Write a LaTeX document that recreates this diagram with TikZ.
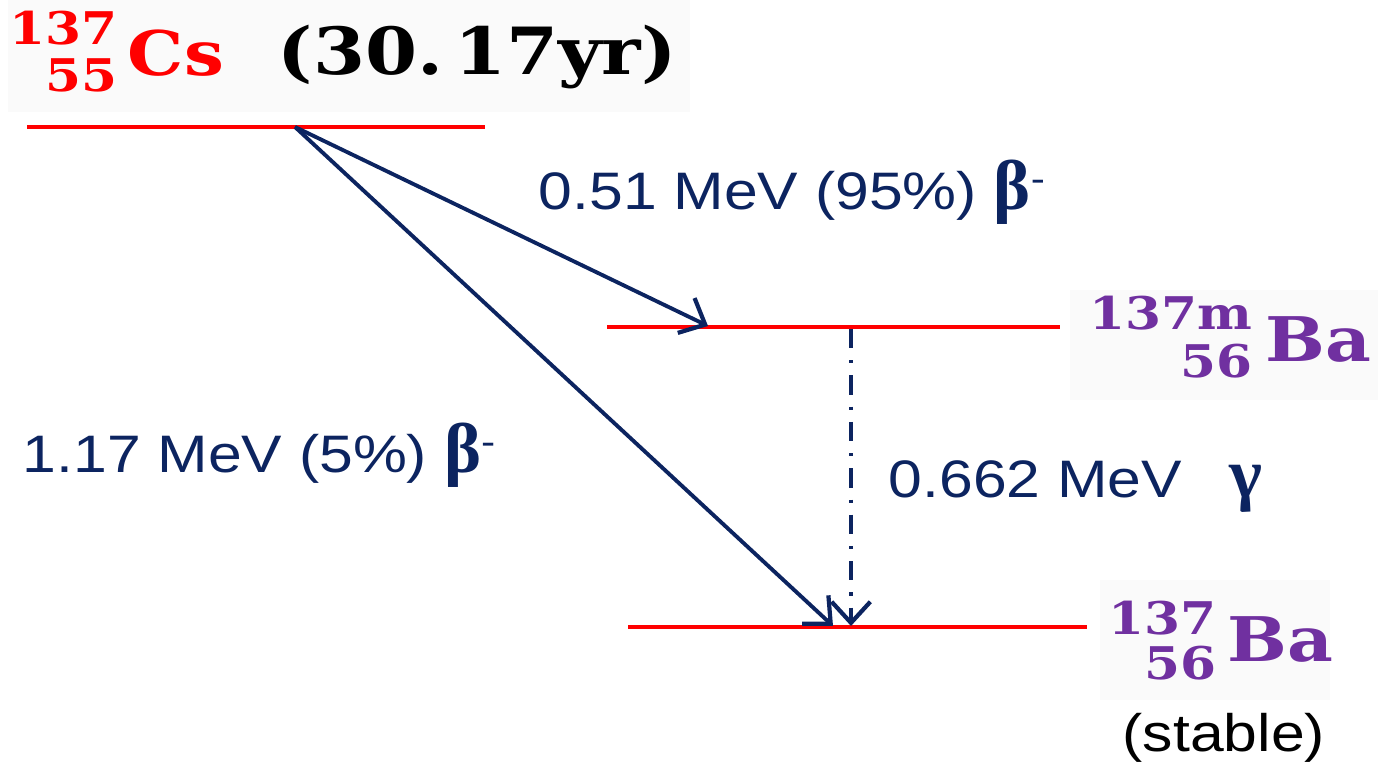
\documentclass[tikz,border=0pt]{standalone}
\usepackage{fontspec}
\usetikzlibrary{arrows.meta}
\newfontfamily\mevfont[FakeStretch=1.15]{Liberation Sans}
\newfontfamily\greekfont{Liberation Serif}
\newfontfamily\nucfont[FakeStretch=1.15]{DejaVu Serif}
\definecolor{levelred}{RGB}{255,0,0}
\definecolor{decaynavy}{RGB}{12,36,96}
\definecolor{bapurple}{RGB}{112,48,160}
\definecolor{labelbg}{RGB}{250,250,250}
\newcommand{\greeksym}[1]{{\greekfont\bfseries\fontsize{20}{20}\selectfont #1}}
\newcommand{\betam}{\greeksym{β}\textsuperscript{-}}
\tikzset{
  level/.style={draw=levelred, line width=1.4pt},
  decay/.style={draw=decaynavy, line width=1.1pt, -{Straight Barb[length=6pt,width=11pt,line width=1.2pt]}},
  energy/.style={text=decaynavy, font=\mevfont\fontsize{15}{18}\selectfont, inner sep=0pt},
  nucnum/.style={font=\nucfont\bfseries\fontsize{12.8}{14}\selectfont, inner sep=0pt, anchor=base east},
  nucsym/.style={font=\nucfont\bfseries\fontsize{17.5}{20}\selectfont, inner sep=0pt, anchor=base west},
}
\begin{document}
\begin{tikzpicture}[x=0.01cm, y=-0.01cm]
  \useasboundingbox (0,0) rectangle (1378,768);
  % label backgrounds
  \fill[labelbg] (8,0) rectangle (690,112);
  \fill[labelbg] (1070,290) rectangle (1378,400);
  \fill[labelbg] (1100,580) rectangle (1330,700);
  % Cs-137 parent
  \node[nucnum, text=levelred] (csA) at (118,45) {137};
  \node[nucnum, text=levelred] (csZ) at (118,92) {55};
  \node[nucsym, text=levelred] (csX) at (127,76) {Cs};
  \node[nucsym, font=\nucfont\bfseries\fontsize{18.5}{20}\selectfont] (csT) at (277,75) {(30.\,17yr)};
  % Ba-137m
  \node[nucnum, text=bapurple] (bamA) at (1253,330) {137m};
  \node[nucnum, text=bapurple] (bamZ) at (1253,378) {56};
  \node[nucsym, text=bapurple] (bamX) at (1265,362) {Ba};
  % Ba-137 ground
  \node[nucnum, text=bapurple] (baA) at (1217,635) {137};
  \node[nucnum, text=bapurple] (baZ) at (1217,680) {56};
  \node[nucsym, text=bapurple] (baX) at (1227,662) {Ba};
  \node[energy, text=black, anchor=base west] (stable) at (1122,752) {(stable)};
  % energy levels
  \coordinate (csL) at (27,127);   \coordinate (csR) at (485,127);
  \coordinate (bamL) at (607,327); \coordinate (bamR) at (1060,327);
  \coordinate (baL) at (628,627);  \coordinate (baR) at (1087,627);
  \draw[level] (csL) -- (csR);
  \draw[level] (bamL) -- (bamR);
  \draw[level] (baL) -- (baR);
  % transitions
  \coordinate (csO) at (295,127);
  \coordinate (bamIn) at (708,326);
  \coordinate (baIn) at (833,626);
  \coordinate (bamOut) at (851,329);
  \coordinate (baG) at (851,626);
  \draw[decay] (csO) -- (bamIn);
  \draw[decay] (csO) -- (baIn);
  \draw[decay, dash pattern=on 5.5pt off 3.4pt on 0.9pt off 3.4pt] (bamOut) -- (baG);
  \node[energy, anchor=base west] (beta1) at (538,210) {0.51 MeV (95\%) \betam};
  \node[energy, anchor=base west] (beta2) at (22,473) {1.17 MeV (5\%) \betam};
  \node[energy, anchor=base west] (gam) at (888,498) {0.662 MeV\hspace{0.9em}\greeksym{γ}};
\end{tikzpicture}
\end{document}
